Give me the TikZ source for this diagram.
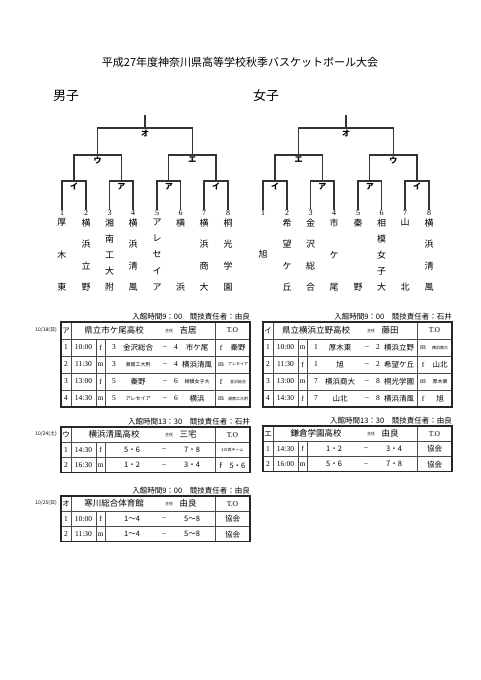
\documentclass[tikz,border=0pt]{standalone}
\usepackage{fontspec}
\setmainfont{Liberation Serif}
\newfontfamily\jp{Noto Sans CJK JP}
\usetikzlibrary{positioning}

\newcommand\brk{\par\vfill}
\newcommand\tate[1]{\parbox[t][72pt][s]{12pt}{\centering #1}}
\newcommand\sm{\fontsize{5}{5}\selectfont}
\newcommand\ssm{\fontsize{4}{4}\selectfont}

\begin{document}
\begin{tikzpicture}[x=1pt, y=-1pt,
    bk/.style={draw=black!80, line width=1.1pt},
    lbl/.style={font=\jp\bfseries\fontsize{8}{8}\selectfont, inner sep=0.5pt},
    num/.style={font=\fontsize{8}{8}\selectfont, inner sep=0.5pt},
    tname/.style={inner sep=0pt, font=\jp\fontsize{9}{10}\selectfont},
    cell/.style={font=\jp\fontsize{7.5}{7.5}\selectfont, inner sep=0pt},
    big/.style={font=\jp\fontsize{8.5}{8.5}\selectfont, inner sep=0pt},
    lat/.style={font=\fontsize{7.5}{7.5}\selectfont, inner sep=0pt},
    note/.style={font=\jp\fontsize{4}{4}\selectfont, inner sep=0pt},
    outer/.style={draw=black!85, line width=1.1pt},
    inner/.style={draw=black!70, line width=0.6pt}]

\useasboundingbox (0,0) rectangle (481,680);

\node[font=\jp\fontsize{11}{11}\selectfont] (title) at (240,62) {平成27年度神奈川県高等学校秋季バスケットボール大会};
\node[font=\jp\fontsize{13}{13}\selectfont] (boys) at (66,96) {男子};
\node[font=\jp\fontsize{13}{13}\selectfont] (girls) at (266,96) {女子};

% brackets
\foreach \g/\dx/\lb/\rb in {m/0/ウ/エ, w/201/エ/ウ} {
  \begin{scope}[xshift=\dx]
    \foreach \i/\x in {1/62, 2/86, 3/109.5, 4/133, 5/157, 6/180.5, 7/204, 8/228}
      \node[num] (\g\i) at (\x,213) {\i};
    \foreach \j/\x in {1/74, 2/121.25, 3/168.75, 4/216}
      \coordinate (\g a\j) at (\x,181);
    \coordinate (\g b1) at (97.6,155);
    \coordinate (\g b2) at (192.4,155);
    \coordinate (\g c) at (145,128);
    \coordinate (\g top) at (145,115);

    \draw[bk] (\g1.north) |- (\g a1) -| (\g2.north);
    \draw[bk] (\g3.north) |- (\g a2) -| (\g4.north);
    \draw[bk] (\g5.north) |- (\g a3) -| (\g6.north);
    \draw[bk] (\g7.north) |- (\g a4) -| (\g8.north);
    \draw[bk] (\g a1) |- (\g b1) -| (\g a2);
    \draw[bk] (\g a3) |- (\g b2) -| (\g a4);
    \draw[bk] (\g b1) |- (\g c) -| (\g b2);
    \draw[bk] (\g c) -- (\g top);

    \foreach \j/\k in {1/イ, 2/ア, 3/ア, 4/イ}
      \node[lbl, below=1.5pt of \g a\j] (\g l\j) {\k};
    \node[lbl, below=1.5pt of \g b1] (\g lb1) {\lb};
    \node[lbl, below=1.5pt of \g b2] (\g lb2) {\rb};
    \node[lbl, below=1.5pt of \g c] (\g lc) {オ};
  \end{scope}
}

% team names
\foreach \i/\s in {1/{厚\brk 木\brk 東}, 2/{横\brk 浜\brk 立\brk 野},
    3/{湘\brk 南\brk 工\brk 大\brk 附}, 4/{横\brk 浜\brk 清\brk 風},
    5/{ア\brk レ\brk セ\brk イ\brk ア}, 6/{横\brk 浜},
    7/{横\brk 浜\brk 商\brk 大}, 8/{桐\brk 光\brk 学\brk 園}}
  \node[tname, below=2pt of m\i] (mn\i) {\tate{\s}};
\foreach \i/\s in {1/{\vfill 旭\vfill}, 2/{希\brk 望\brk ケ\brk 丘},
    3/{金\brk 沢\brk 総\brk 合}, 4/{市\brk ケ\brk 尾}, 5/{秦\brk 野},
    6/{相\brk 模\brk 女\brk 子\brk 大}, 7/{山\brk 北}, 8/{横\brk 浜\brk 清\brk 風}}
  \node[tname, below=2pt of w\i] (wn\i) {\tate{\s}};

% table frames
\foreach \x/\y/\h/\n in {61/322/17/4, 263/322/17/4, 61/427/15.3/2, 263/426/15.3/2, 61/496/15.3/2} {
  \foreach \r in {1,...,\n}
    \draw[inner] (\x,\y+\r*\h) -- ++(189,0);
  \draw[inner] (\x+10,\y) -- ++(0,\h*\n+\h);
  \draw[inner] (\x+154,\y) -- ++(0,\h*\n+\h);
  \draw[inner] (\x+35,\y+\h) -- ++(0,\h*\n);
  \draw[inner] (\x+44,\y+\h) -- ++(0,\h*\n);
  \draw[outer] (\x,\y) rectangle ++(189,\h*\n+\h);
}

% table headers
\foreach \tb/\x/\y/\h/\k/\school/\boss/\tm/\chief in {
    A/61/322/17/ア/県立市ケ尾高校/吉居/9：00/由良,
    B/263/322/17/イ/県立横浜立野高校/藤田/9：00/石井,
    C/61/427/15.3/ウ/横浜清風高校/三宅/13：30/石井,
    D/263/426/15.3/エ/鎌倉学園高校/由良/13：30/由良,
    E/61/496/15.3/オ/寒川総合体育館/由良/9：00/由良} {
  \node[cell] (k\tb) at (\x+5,\y+\h/2) {\k};
  \node[big] (s\tb) at (\x+53,\y+\h/2) {\school};
  \node[note] (c\tb) at (\x+108,\y+\h/2) {主任};
  \node[big] (b\tb) at (\x+127,\y+\h/2) {\boss};
  \node[lat] (o\tb) at (\x+171.5,\y+\h/2) {T.O};
  \node[cell, anchor=south east] (e\tb) at (\x+189,\y-2) {入館時間\tm\quad 競技責任者：\chief};
}

% dates
\node[font=\jp\fontsize{5}{5}\selectfont] (d1) at (46,330) {10/18(日)};
\node[font=\jp\fontsize{5}{5}\selectfont] (d2) at (46,434) {10/24(土)};
\node[font=\jp\fontsize{5}{5}\selectfont] (d3) at (46,503) {10/25(日)};

% games, first day
\foreach \x/\r/\tm/\s/\a/\an/\b/\bn/\os/\on in {
    61/1/10:00/f/3/金沢総合/4/市ケ尾/f/秦野,
    61/2/11:30/m/3/{\sm 湘南工大附}/4/横浜清風/m/{\ssm アレセイア},
    61/3/13:00/f/5/秦野/6/{\sm 相模女子大}/f/{\ssm 金沢総合},
    61/4/14:30/m/5/{\sm アレセイア}/6/横浜/m/{\ssm 湘南工大附},
    263/1/10:00/m/1/厚木東/2/横浜立野/m/{\ssm 横浜商大},
    263/2/11:30/f/1/旭/2/希望ケ丘/f/山北,
    263/3/13:00/m/7/横浜商大/8/桐光学園/m/{\sm 厚木東},
    263/4/14:30/f/7/山北/8/横浜清風/f/旭} {
  \pgfmathsetmacro\yy{322+17*\r+8.5}
  \node[lat] (n\r) at (\x+5,\yy) {\r};
  \node[lat] (t\r) at (\x+22.5,\yy) {\tm};
  \node[lat] (g\r) at (\x+39.5,\yy) {\s};
  \node[lat] (p\r) at (\x+53,\yy) {\a};
  \node[cell] (pn\r) at (\x+77,\yy) {\an};
  \node[lat] (v\r) at (\x+104,\yy) {--};
  \node[lat] (q\r) at (\x+115,\yy) {\b};
  \node[cell] (qn\r) at (\x+136,\yy) {\bn};
  \node[lat] (os\r) at (\x+160,\yy) {\os};
  \node[cell] (on\r) at (\x+177,\yy) {\on};
}

% games, second and third day
\foreach \x/\y/\r/\tm/\s/\a/\b/\o in {
    61/427/1/14:30/f/5・6/7・8/{\ssm 2の両チーム},
    61/427/2/16:30/m/1・2/3・4/{f\quad 5・6},
    263/426/1/14:30/f/1・2/3・4/協会,
    263/426/2/16:00/m/5・6/7・8/協会,
    61/496/1/10:00/f/1～4/5～8/協会,
    61/496/2/11:30/m/1～4/5～8/協会} {
  \pgfmathsetmacro\yy{\y+15.3*\r+7.65}
  \node[lat] (n\r) at (\x+5,\yy) {\r};
  \node[lat] (t\r) at (\x+22.5,\yy) {\tm};
  \node[lat] (g\r) at (\x+39.5,\yy) {\s};
  \node[cell] (p\r) at (\x+71,\yy) {\a};
  \node[lat] (v\r) at (\x+103,\yy) {--};
  \node[cell] (q\r) at (\x+131,\yy) {\b};
  \node[cell] (o\r) at (\x+171.5,\yy) {\o};
}
\end{tikzpicture}
\end{document}
